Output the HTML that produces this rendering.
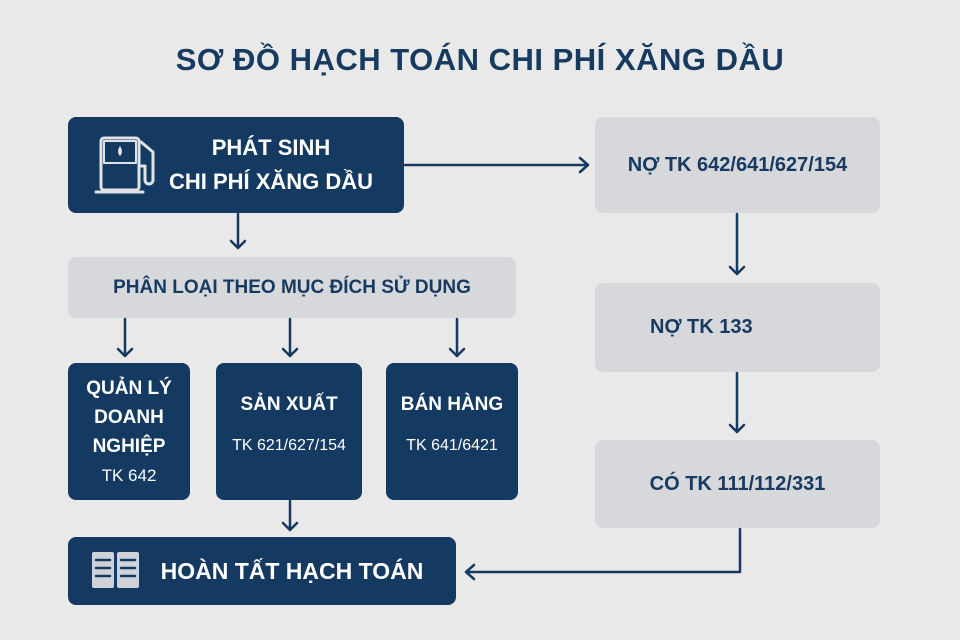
<!DOCTYPE html>
<html><head><meta charset="utf-8"><style>
body{margin:0;width:960px;height:640px;background:#e9e9e9;font-family:"Liberation Sans",sans-serif;position:relative;overflow:hidden}
.b{position:absolute;box-sizing:border-box;border-radius:8px;display:flex;align-items:center;justify-content:center;text-align:center;font-weight:bold}
.n{background:#143a62;color:#fff}
.g{background:#d6d8dc;color:#173a60}
.t{position:absolute;left:0;width:960px;top:42px;text-align:center;font-size:31px;font-weight:bold;color:#173a60;letter-spacing:0.5px}
.s{font-weight:normal;font-size:16px}
svg{position:absolute;left:0;top:0}
</style></head><body>
<div class="t">SƠ ĐỒ HẠCH TOÁN CHI PHÍ XĂNG DẦU</div>
<div class="b n" style="left:68px;top:117px;width:336px;height:96px;font-size:22px;line-height:34px;padding-left:70px"><div>PHÁT SINH<br>CHI PHÍ XĂNG DẦU</div></div>
<div class="b g" style="left:595px;top:117px;width:285px;height:96px;font-size:20px">NỢ TK 642/641/627/154</div>
<div class="b g" style="left:595px;top:283px;width:285px;height:89px;font-size:20px;justify-content:flex-start;padding-left:55px">NỢ TK 133</div>
<div class="b g" style="left:595px;top:440px;width:285px;height:88px;font-size:20px">CÓ TK 111/112/331</div>
<div class="b g" style="left:68px;top:257px;width:448px;height:61px;font-size:19px">PHÂN LOẠI THEO MỤC ĐÍCH SỬ DỤNG</div>
<div class="b n" style="left:68px;top:363px;width:122px;height:137px;font-size:19px;line-height:29px"><div>QUẢN LÝ<br>DOANH<br>NGHIỆP<br><span class="s" style="font-size:17px">TK 642</span></div></div>
<div class="b n" style="left:216px;top:363px;width:146px;height:137px;font-size:19px;line-height:40px;align-items:flex-start;padding-top:22px"><div>SẢN XUẤT<br><span class="s">TK 621/627/154</span></div></div>
<div class="b n" style="left:386px;top:363px;width:132px;height:137px;font-size:19px;line-height:40px;align-items:flex-start;padding-top:22px"><div>BÁN HÀNG<br><span class="s">TK 641/6421</span></div></div>
<div class="b n" style="left:68px;top:537px;width:388px;height:68px;font-size:23px;padding-left:60px">HOÀN TẤT HẠCH TOÁN</div>
<svg width="960" height="640" fill="none" stroke="#173a60" stroke-width="2.5" stroke-linecap="round" stroke-linejoin="round">
<g stroke="#dfe3e8" stroke-width="3">
<rect x="101" y="138" width="38" height="52" rx="3"/><line x1="96" y1="192" x2="143" y2="192"/>
<path d="M141 142 l12 10 v28 a4 4 0 0 1 -8 0 v-14 h-5"/>
</g>
<rect x="104" y="141" width="32" height="22" fill="#143a62" stroke="#dfe3e8" stroke-width="2"/>
<path d="M120 146 q-4 6 0 10 q4 -4 0 -10z" fill="#dfe3e8" stroke="none"/>
<g fill="#cfd3d8" stroke="none"><rect x="92" y="552" width="22" height="36" rx="2"/><rect x="117" y="552" width="22" height="36" rx="2"/></g>
<g stroke="#143a62" stroke-width="2.5"><line x1="96" y1="560" x2="110" y2="560"/><line x1="96" y1="568" x2="110" y2="568"/><line x1="96" y1="576" x2="110" y2="576"/><line x1="121" y1="560" x2="135" y2="560"/><line x1="121" y1="568" x2="135" y2="568"/><line x1="121" y1="576" x2="135" y2="576"/></g>
<path d="M405 165 H588 M580 158 l8 7 -8 7"/>
<path d="M238 214 V248 M231 241 l7 7 7 -7"/>
<path d="M125 319 V356 M118 349 l7 7 7 -7"/>
<path d="M290 319 V356 M283 349 l7 7 7 -7"/>
<path d="M457 319 V356 M450 349 l7 7 7 -7"/>
<path d="M737 214 V274 M730 267 l7 7 7 -7"/>
<path d="M737 373 V432 M730 425 l7 7 7 -7"/>
<path d="M290 501 V530 M283 523 l7 7 7 -7"/>
<path d="M740 529 V572 H466 M474 565 l-8 7 8 7"/>
</svg>
</body></html>
